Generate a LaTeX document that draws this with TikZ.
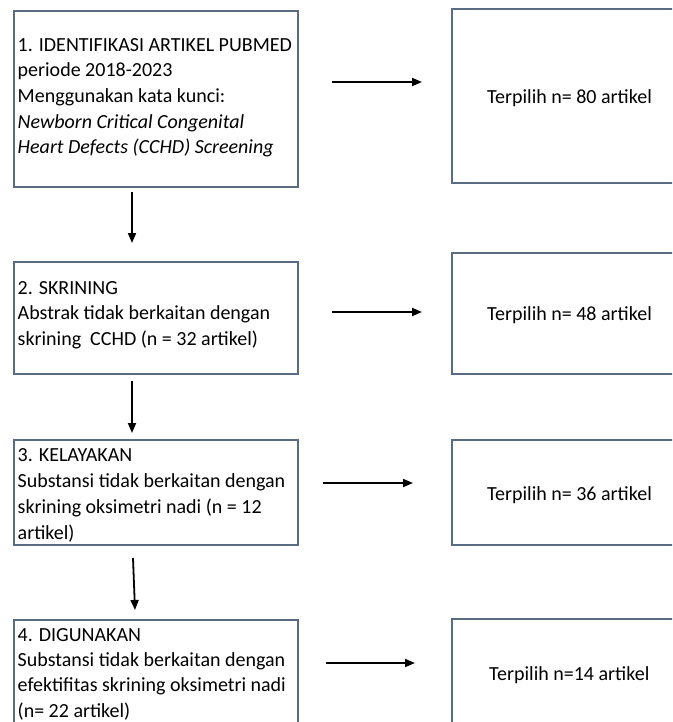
\documentclass[tikz,border=0pt]{standalone}
\usepackage{fontspec}
\setmainfont{Carlito}
\usetikzlibrary{arrows.meta}
\definecolor{boxline}{RGB}{90,108,132}
\begin{document}
\begin{tikzpicture}[x=1pt,y=-1pt,
  box/.style={draw=boxline,line width=1.6pt,rectangle,inner sep=0pt},
  txt/.style={align=left,inner sep=0pt,anchor=north west,font=\fontsize{20}{25.7}\selectfont},
  txtb/.style={txt,font=\fontsize{20}{25.4}\selectfont},
  rtxt/.style={inner sep=0pt,anchor=base west,font=\fontsize{20}{25.7}\selectfont},
  arr/.style={line width=1.8pt,-{Triangle[length=10pt,width=8pt]}}]
\useasboundingbox (0,0) rectangle (672,722);
\clip (0,0) rectangle (672,722);
% left boxes
\node[box,minimum width=284pt,minimum height=176pt] (b1) at (156,99) {};
\node[box,minimum width=284pt,minimum height=112pt] (b2) at (156,318) {};
\node[box,minimum width=284pt,minimum height=105pt] (b3) at (156,492.5) {};
\node[box,minimum width=284pt,minimum height=120pt] (b4) at (156,680) {};
% right boxes
\node[box,minimum width=248pt,minimum height=174pt] (r1) at (576,96) {};
\node[box,minimum width=248pt,minimum height=121pt] (r2) at (576,313.5) {};
\node[box,minimum width=248pt,minimum height=105pt] (r3) at (576,492.5) {};
\node[box,minimum width=248pt,minimum height=121pt] (r4) at (576,679.5) {};
% left texts
\node[txt] (t1) at (17.5,35) {\rule{0pt}{16pt}1. IDENTIFIKASI ARTIKEL PUBMED\\
periode 2018-2023\\
Menggunakan kata kunci:\\
\textit{Newborn Critical Congenital}\\
\textit{Heart Defects (CCHD) Screening}};
\node[txt] (t2) at (17.5,278) {\rule{0pt}{16pt}2. SKRINING\\
Abstrak tidak berkaitan dengan\\
skrining~ CCHD (n = 32 artikel)};
\node[txt] (t3) at (17.5,445.7) {\rule{0pt}{16pt}3. KELAYAKAN\\
Substansi tidak berkaitan dengan\\
skrining oksimetri nadi (n = 12\\
artikel)};
\node[txtb] (t4) at (17.5,624.8) {\rule{0pt}{16pt}4. DIGUNAKAN\\
Substansi tidak berkaitan dengan\\
efektifitas skrining oksimetri nadi\\
(n= 22 artikel)};
% right texts
\node[rtxt] (s1) at (487,103.3) {Terpilih n= 80 artikel};
\node[rtxt] (s2) at (487,320) {Terpilih n= 48 artikel};
\node[rtxt] (s3) at (487,500) {Terpilih n= 36 artikel};
\node[rtxt] (s4) at (489,680) {Terpilih n=14 artikel};
% horizontal arrows
\coordinate (h1s) at (332,82);  \coordinate (h1e) at (422,82);
\coordinate (h2s) at (332,312); \coordinate (h2e) at (422,312);
\coordinate (h3s) at (323,483); \coordinate (h3e) at (413,483);
\coordinate (h4s) at (326,663); \coordinate (h4e) at (415,663);
\draw[arr] (h1s) -- (h1e);
\draw[arr] (h2s) -- (h2e);
\draw[arr] (h3s) -- (h3e);
\draw[arr] (h4s) -- (h4e);
% vertical arrows
\coordinate (v1s) at (132,192); \coordinate (v1e) at (132,243);
\coordinate (v2s) at (132,381); \coordinate (v2e) at (132,433);
\coordinate (v3s) at (133,558); \coordinate (v3e) at (135,610);
\draw[arr] (v1s) -- (v1e);
\draw[arr] (v2s) -- (v2e);
\draw[arr] (v3s) -- (v3e);
\end{tikzpicture}
\end{document}
